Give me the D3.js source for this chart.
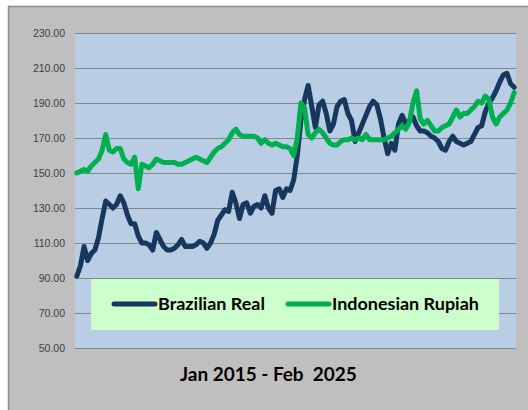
<!DOCTYPE html>
<html><head><meta charset="utf-8">
<script src="https://cdn.jsdelivr.net/npm/d3@7"></script>
<style>body{margin:0;background:#fff}svg{display:block}</style>
</head><body><svg id="c" width="528" height="410"></svg>
<script>
const months = d3.timeMonth.range(new Date(2015, 0, 1), new Date(2025, 2, 1));
const brazilianReal = [
  91, 97, 108, 100, 104, 106, 113, 124, 134, 132,
  130, 132, 137, 133, 126, 121, 121, 114, 110, 110,
  109, 106, 116, 112, 108, 106, 106, 107, 109, 112,
  108, 108, 108, 109, 111, 110, 107, 110, 115, 123,
  126, 129, 128, 139, 133, 124, 132, 133, 127, 131,
  132, 130, 137, 130, 127, 140, 141, 136, 141, 140,
  146, 160, 180, 192, 200, 188, 176, 189, 191, 184,
  174, 178, 188, 191, 192, 184, 180, 168, 173, 178,
  183, 188, 191, 189, 181, 170, 161, 167, 163, 178,
  183, 178, 180, 182, 177, 174, 174, 173, 171, 170,
  168, 164, 163, 168, 171, 168, 167, 166, 167, 168,
  172, 176, 177, 185, 190, 193, 197, 202, 206, 207,
  201, 199
];
const indonesianRupiah = [
  150, 151, 152, 151, 154, 156, 158, 163, 172, 163,
  162, 164, 164, 158, 156, 155, 159, 141, 155, 154,
  153, 155, 158, 157, 156, 156, 156, 156, 155, 155,
  156, 157, 158, 159, 158, 157, 156, 159, 162, 164,
  165, 167, 169, 173, 175, 172, 171, 171, 171, 171,
  170, 167, 169, 167, 166, 167, 166, 165, 165, 164,
  160, 170, 190, 187, 172, 170, 173, 175, 173, 170,
  167, 166, 166, 168, 169, 169, 170, 169, 170, 169,
  172, 169, 169, 169, 169, 169, 170, 171, 173, 175,
  177, 175, 179, 190, 197, 181, 178, 180, 177, 174,
  174, 176, 177, 178, 182, 186, 182, 184, 184, 186,
  188, 191, 190, 194, 192, 182, 178, 182, 184, 186,
  190, 196
];
const yTicks = [50, 70, 90, 110, 130, 150, 170, 190, 210, 230];
const seriesNames = ["Brazilian Real", "Indonesian Rupiah"];
const seriesColors = ["#17375e", "#00b050"];
const title = "Jan 2015 - Feb\u00a0 2025";

const svg = d3.select("#c");
const plot = {x0: 75, x1: 516, y0: 33, y1: 348};

svg.append("rect").attr("x", 8.5).attr("y", 6.5).attr("width", 530).attr("height", 410)
  .attr("fill", "#bfbfbf").attr("stroke", "#8c8c8c").attr("stroke-width", 1.5);

const x = d3.scalePoint().domain(d3.range(months.length)).range([plot.x0, plot.x1]).padding(0.5);
const y = d3.scaleLinear().domain([50, 230]).range([plot.y1, plot.y0]);

svg.append("rect").attr("x", plot.x0).attr("y", plot.y0)
  .attr("width", plot.x1 - plot.x0).attr("height", plot.y1 - plot.y0).attr("fill", "#b9cde5");

const yAxis = d3.axisLeft(y).tickValues(yTicks).tickFormat(d3.format(".2f"))
  .tickSize(-(plot.x1 - plot.x0)).tickPadding(10);
const gy = svg.append("g").attr("transform", `translate(${plot.x0},0)`).call(yAxis);
gy.select(".domain").remove();
gy.selectAll(".tick line").attr("stroke", "#868686").attr("stroke-width", 1.2);
gy.selectAll(".tick text").attr("fill", "#404040")
  .attr("font-family", "'Liberation Sans', Arial, sans-serif").attr("font-size", "10.5px");

const line = d3.line().x((d, i) => x(i)).y(d => y(d));
[brazilianReal, indonesianRupiah].forEach((s, k) => {
  svg.append("path").datum(s).attr("d", line).attr("fill", "none")
    .attr("stroke", seriesColors[k]).attr("stroke-width", 5)
    .attr("stroke-linejoin", "round").attr("stroke-linecap", "round");
});

// legend
svg.append("rect").attr("x", 91).attr("y", 279).attr("width", 408).attr("height", 51).attr("fill", "#ccffcc");
const legX = [114, 288];
const targetW = [107, 147];
seriesNames.forEach((n, k) => {
  svg.append("line").attr("x1", legX[k]).attr("x2", legX[k] + 41).attr("y1", 304).attr("y2", 304)
    .attr("stroke", seriesColors[k]).attr("stroke-width", 5).attr("stroke-linecap", "round");
  const t = svg.append("text").attr("x", legX[k] + 44).attr("y", 310)
    .attr("font-family", "Lato, 'Open Sans', sans-serif").attr("font-weight", "bold")
    .attr("font-size", "16px").attr("fill", "#000").text(n);
  const w = t.node().getComputedTextLength();
  t.attr("font-size", (16 * targetW[k] / w).toFixed(2) + "px");
});

const tt = svg.append("text").attr("x", 180).attr("y", 381)
  .attr("font-family", "Lato, 'Open Sans', sans-serif").attr("font-weight", "bold")
  .attr("font-size", "18px").attr("fill", "#000").text(title);
const tw = tt.node().getComputedTextLength();
tt.attr("font-size", (18 * 177 / tw).toFixed(2) + "px");
</script>
</body></html>
